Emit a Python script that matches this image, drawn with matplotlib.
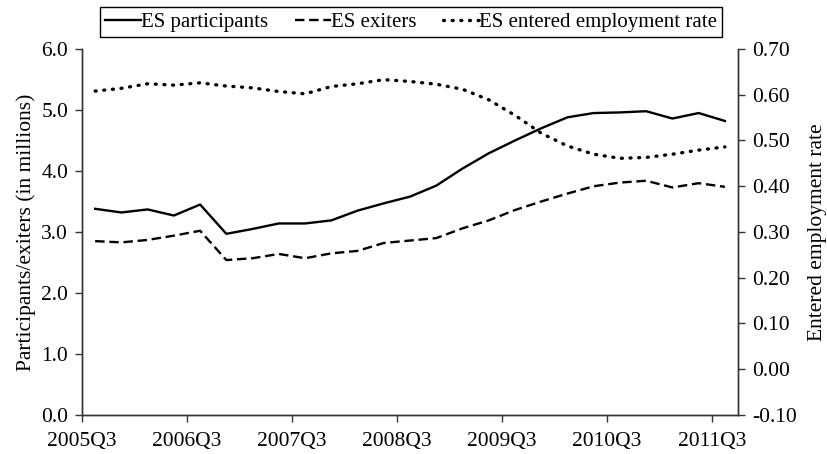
import matplotlib.pyplot as plt

plt.rcParams['font.family'] = ['Liberation Serif', 'DejaVu Serif']
plt.rcParams['font.size'] = 15.5

# quarters 2005Q3 .. 2011Q3
quarters = ['2005Q3', '2005Q4', '2006Q1', '2006Q2', '2006Q3', '2006Q4', '2007Q1',
            '2007Q2', '2007Q3', '2007Q4', '2008Q1', '2008Q2', '2008Q3', '2008Q4',
            '2009Q1', '2009Q2', '2009Q3', '2009Q4', '2010Q1', '2010Q2', '2010Q3',
            '2010Q4', '2011Q1', '2011Q2', '2011Q3']
participants = [3.38, 3.32, 3.37, 3.27, 3.45, 2.97, 3.05, 3.14, 3.14, 3.19, 3.35,
                3.47, 3.58, 3.76, 4.04, 4.29, 4.50, 4.70, 4.88, 4.95, 4.96, 4.98,
                4.86, 4.95, 4.82]
exiters = [2.85, 2.83, 2.87, 2.94, 3.02, 2.54, 2.57, 2.64, 2.57, 2.65, 2.69, 2.82,
           2.86, 2.90, 3.06, 3.19, 3.36, 3.50, 3.63, 3.75, 3.81, 3.84, 3.73, 3.80,
           3.74]
eer = [0.608, 0.614, 0.624, 0.621, 0.626, 0.619, 0.615, 0.607, 0.602, 0.618, 0.624,
       0.633, 0.629, 0.623, 0.612, 0.589, 0.555, 0.516, 0.488, 0.470, 0.461, 0.463,
       0.470, 0.479, 0.486]
tick_labels = ['2005Q3', '2006Q3', '2007Q3', '2008Q3', '2009Q3', '2010Q3', '2011Q3']

fig = plt.figure(figsize=(8.27, 4.54), dpi=100)
ax = fig.add_axes([0.0992, 0.0859, 0.7932, 0.8062])
ax2 = ax.twinx()

xs = [i + 0.5 for i in range(len(quarters))]
l1, = ax.plot(xs, participants, color='black', lw=1.7, label='ES participants')
l2, = ax.plot(xs, exiters, color='black', lw=1.7, ls=(0, (4, 2)), label='ES exiters')
l3, = ax2.plot(xs, eer, color='black', lw=2.4, ls=(0, (0.3, 2.3)),
               dash_capstyle='round', label='ES entered employment rate')

ax.set_xlim(0, 25)
ax.set_xticks(range(0, 25, 4))
ax.set_xticklabels(tick_labels)
ax.set_ylim(0, 6)
ax.set_yticks([0, 1, 2, 3, 4, 5, 6])
ax.set_yticklabels(['%.1f' % v for v in range(7)])
ax2.set_ylim(-0.1, 0.7)
ax2.set_yticks([-0.1, 0, 0.1, 0.2, 0.3, 0.4, 0.5, 0.6, 0.7])
ax2.set_yticklabels(['%.2f' % v for v in [-0.1, 0, 0.1, 0.2, 0.3, 0.4, 0.5, 0.6, 0.7]])

for a in (ax, ax2):
    a.spines['top'].set_visible(False)
    for s in a.spines.values():
        s.set_color('#333333')
        s.set_linewidth(1.0)
    a.tick_params(direction='out', length=5, width=1.0, color='#333333', pad=5)
ax.tick_params(axis='x', pad=7)

ax.set_ylabel('Participants/exiters (in millions)', labelpad=4)
ax2.set_ylabel('Entered employment rate', labelpad=8)

fig.legend(handles=[l1, l2, l3], loc='center', bbox_to_anchor=(0.497, 0.9515), ncol=3,
           frameon=True, fancybox=False, edgecolor='black', framealpha=1,
           handlelength=1.7, handletextpad=0.0, columnspacing=1.3, borderpad=0.25,
           fontsize=15)

fig.savefig('out.png', dpi=100)
